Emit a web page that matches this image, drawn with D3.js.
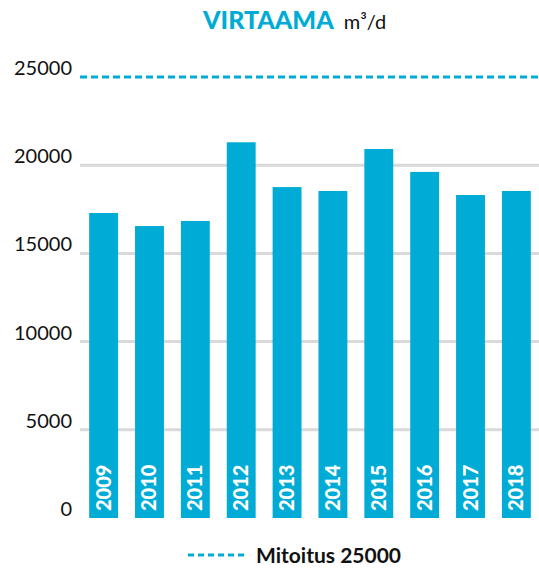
<!DOCTYPE html>
<html><head><meta charset="utf-8">
<script src="https://cdn.jsdelivr.net/npm/d3@7"></script>
<style>body{margin:0;background:#fff}svg{display:block}</style>
</head><body>
<svg id="c" width="539" height="572"></svg>
<script>
const years = ["2009","2010","2011","2012","2013","2014","2015","2016","2017","2018"];
const flows = [17290,16550,16840,21300,18760,18540,20920,19620,18310,18540];
const ticks = [0,5000,10000,15000,20000,25000];
const design = 25000;
const titleMain = "VIRTAAMA";
const titleUnit = "m³/d";
const legendLabel = "Mitoitus 25000";

const cyan = "#00acd5";
const svg = d3.select("#c");
const font = "Lato, 'Open Sans', sans-serif";

const x = d3.scaleBand().domain(years).range([80,540]).paddingInner(0.37).paddingOuter(0.2);
const y = d3.scaleLinear().domain([0,25000]).range([518,77]);

// gridlines
svg.append("g").selectAll("line").data(ticks.filter(t=>t>0 && t<design)).join("line")
  .attr("x1",80).attr("x2",539).attr("y1",d=>y(d)).attr("y2",d=>y(d))
  .attr("stroke","#d9d9d9").attr("stroke-width",3);

// design line
svg.append("line").attr("x1",80).attr("x2",539).attr("y1",y(design)).attr("y2",y(design))
  .attr("stroke",cyan).attr("stroke-width",3).attr("stroke-dasharray","7,4");

// tick labels
svg.append("g").selectAll("text").data(ticks).join("text")
  .attr("x",72).attr("y",d=>y(d)-7).attr("text-anchor","end").attr("dominant-baseline","middle")
  .attr("font-family",font).attr("font-size",20).attr("fill","#111").text(d=>d);

// bars
svg.append("g").selectAll("rect").data(years).join("rect")
  .attr("x",d=>x(d)).attr("width",x.bandwidth())
  .attr("y",(d,i)=>y(flows[i])).attr("height",(d,i)=>y(0)-y(flows[i]))
  .attr("fill",cyan);

// year labels
svg.append("g").selectAll("text").data(years).join("text")
  .attr("transform",d=>`translate(${x(d)+x.bandwidth()/2+7},511) rotate(-90)`)
  .attr("font-family",font).attr("font-weight","900").attr("font-size",20)
  .attr("fill","#fff").text(d=>d);

// title
const t = svg.append("text").attr("x",203).attr("y",29).attr("font-family",font);
t.append("tspan").attr("font-weight","900").attr("font-size",25).attr("fill",cyan).text(titleMain);
t.append("tspan").attr("dx",10).attr("font-size",20).attr("fill","#111").text(titleUnit);

// legend
svg.append("line").attr("x1",188).attr("x2",244).attr("y1",555).attr("y2",555)
  .attr("stroke",cyan).attr("stroke-width",3).attr("stroke-dasharray","6,4");
svg.append("text").attr("x",256).attr("y",563).attr("font-family",font).attr("font-weight","bold")
  .attr("font-size",21).attr("fill","#111").text(legendLabel);
</script>
</body></html>
